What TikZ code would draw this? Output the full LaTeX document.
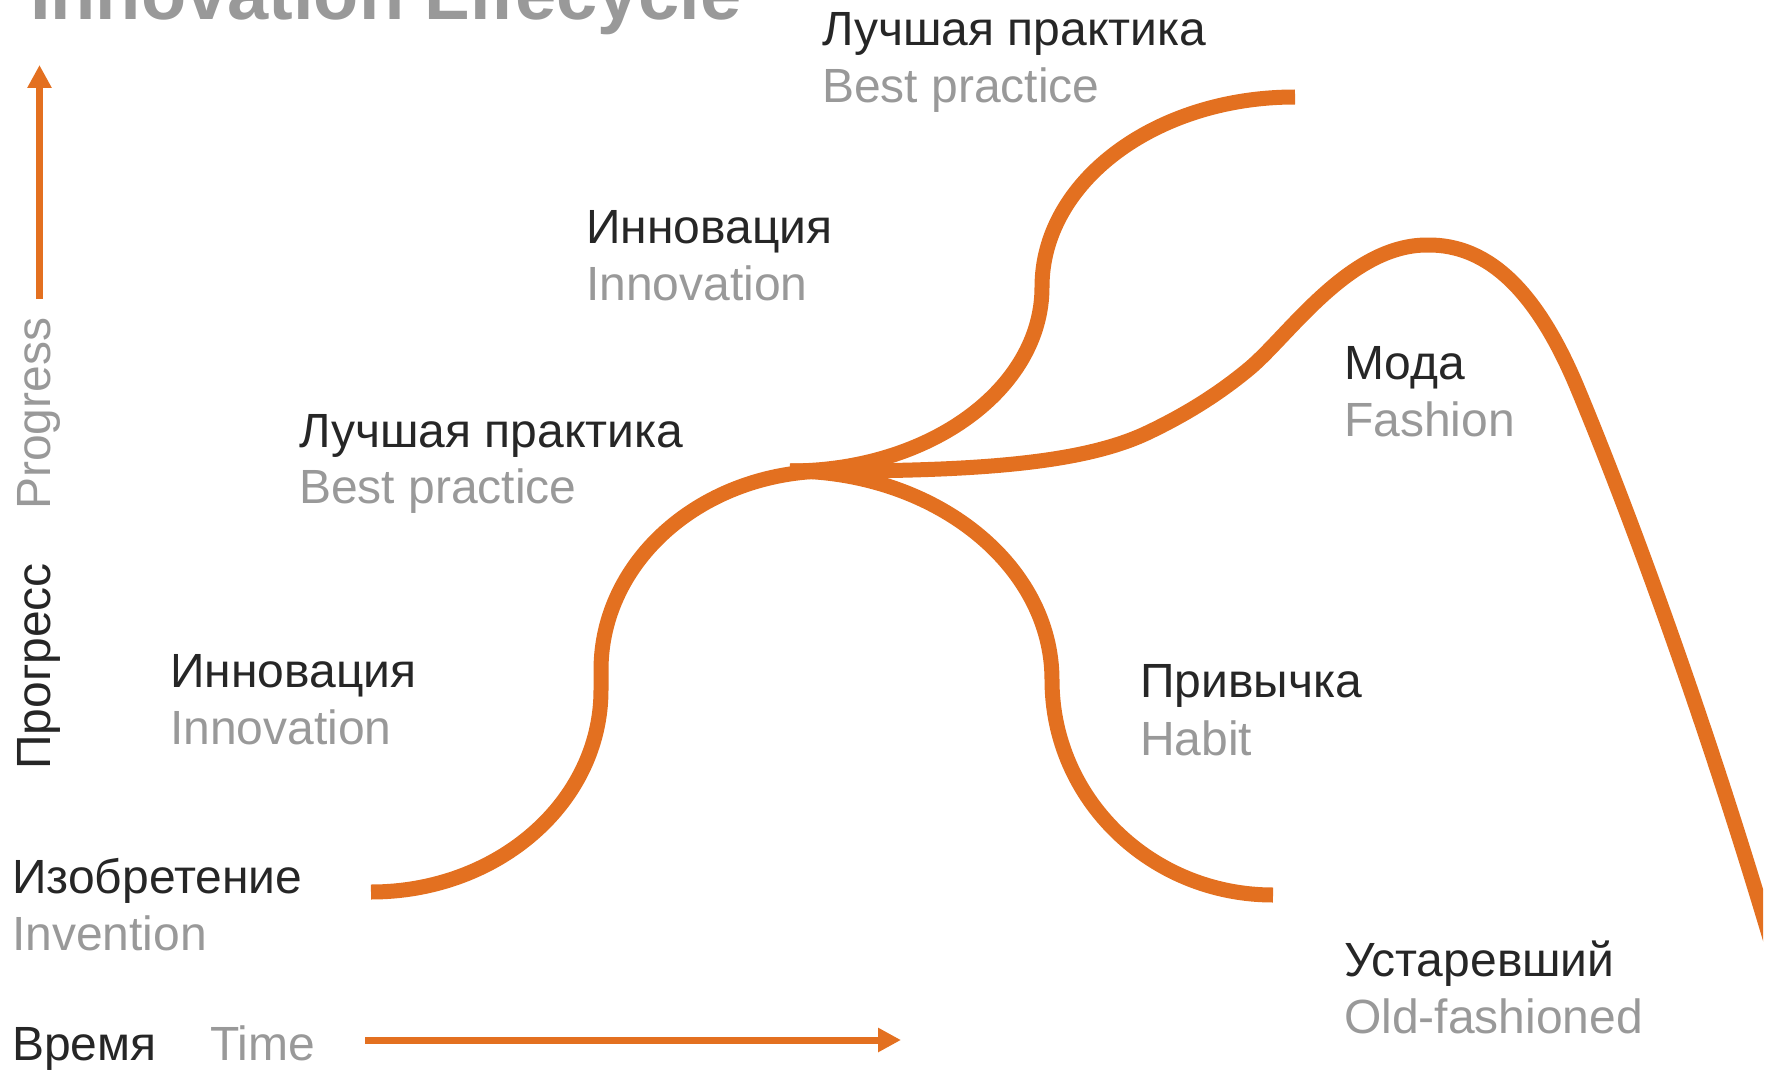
\documentclass[tikz,border=0pt]{standalone}
\usepackage{fontspec}
\setmainfont{Liberation Sans}
\usetikzlibrary{arrows.meta}
\definecolor{orng}{RGB}{227,112,32}
\definecolor{txtdark}{RGB}{38,38,38}
\definecolor{txtgray}{RGB}{153,153,153}
\begin{document}
\begin{tikzpicture}[x=1pt,y=-1pt,
  rulabel/.style={anchor=base west, inner sep=0pt, text=txtdark, font=\fontsize{48}{57}\selectfont},
  enlabel/.style={rulabel, text=txtgray},
  titlestyle/.style={anchor=base west, inner sep=0pt, text=txtgray, font=\fontsize{74}{80}\selectfont\bfseries},
  curve/.style={draw=orng, line width=15pt},
  axisarrow/.style={draw=orng, line width=7pt, -{Triangle[length=23pt,width=23pt]}}]
\useasboundingbox (0,0) rectangle (1772,1070);

% title (cut at the top)
\node[titlestyle] (title) at (30,20) {Innovation Lifecycle};

% axes
\coordinate (vbase) at (39.5,299);
\coordinate (vtip) at (39.5,65);
\draw[axisarrow] (vbase) -- (vtip);
\coordinate (hbase) at (365,1040);
\coordinate (htip) at (901,1040);
\draw[axisarrow] (hbase) -- (htip);

\node[enlabel, rotate=90] (progen) at (50.7,510) {Progress};
\node[rulabel, rotate=90] (progru) at (50.7,770) {Прогресс};
\node[rulabel] (timeru) at (12,1060) {Время};
\node[enlabel] (timeen) at (210,1060) {Time};

% curves
\coordinate (inv) at (371,892);
\coordinate (junc) at (830,471);
\coordinate (jstart) at (790,471);
\draw[curve] (inv) .. controls (498,892) and (601,802) .. (601,690) -- (601,670)
  .. controls (601,560) and (703,471) .. (junc);
\coordinate (bestend) at (1295,97);
\draw[curve] (jstart) .. controls (929,471) and (1042,389) .. (1042,287)
  .. controls (1042,182) and (1155,97) .. (bestend);
\coordinate (habitend) at (1273,895);
\draw[curve] (jstart) .. controls (935,471) and (1052,565) .. (1052,680)
  .. controls (1052,799) and (1151,895) .. (habitend);
\coordinate (oldend) at (1775,955);
\begin{scope}
\clip (0,0) rectangle (1763,1070);
\draw[curve] (jstart) .. controls (960,472) and (1077,466) .. (1147,433)
  .. controls (1187,414) and (1220,393) .. (1250,368)
  .. controls (1290,334) and (1350,245) .. (1427,245)
  .. controls (1490,244) and (1538,294) .. (1577,387)
  .. controls (1620,490) and (1700,700) .. (oldend);
\end{scope}

% labels
\node[rulabel] (bp2ru) at (822,46) {Лучшая практика};
\node[enlabel] (bp2en) at (822,103) {Best practice};
\node[rulabel] (in2ru) at (586,243) {Инновация};
\node[enlabel] (in2en) at (586,300) {Innovation};
\node[rulabel] (bp1ru) at (299,447) {Лучшая практика};
\node[enlabel] (bp1en) at (299,503) {Best practice};
\node[rulabel] (in1ru) at (170,687) {Инновация};
\node[enlabel] (in1en) at (170,744) {Innovation};
\node[rulabel] (invru) at (12,893) {Изобретение};
\node[enlabel] (inven) at (12,950) {Invention};
\node[rulabel] (fashru) at (1344,379) {Мода};
\node[enlabel] (fashen) at (1344,436) {Fashion};
\node[rulabel] (habru) at (1140,697) {Привычка};
\node[enlabel] (haben) at (1140,755) {Habit};
\node[rulabel] (oldru) at (1344,976) {Устаревший};
\node[enlabel] (olden) at (1344,1033) {Old-fashioned};
\end{tikzpicture}
\end{document}
